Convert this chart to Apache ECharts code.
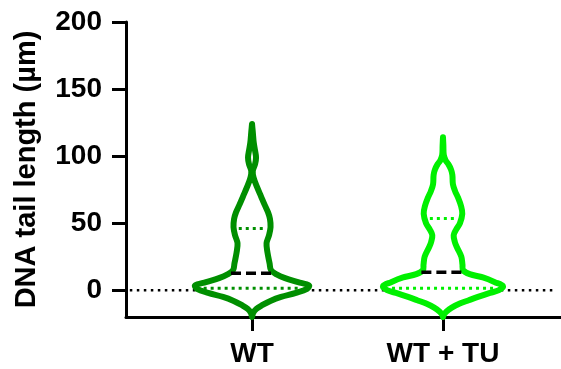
<!DOCTYPE html>
<html>
<head>
<meta charset="utf-8">
<script src="https://cdn.jsdelivr.net/npm/echarts@6/dist/echarts.min.js"></script>
<style>
  html, body { margin: 0; padding: 0; background: #fff; }
  #chart { width: 561px; height: 369px; }
</style>
</head>
<body>
<div id="chart"></div>
<script>
// Groups on the x axis
const categories = ['WT', 'WT + TU'];
const groupColors = ['#008f00', '#00f000'];

// Violin outlines: tail length (µm) and half-width of the density at that length
const wtLengths = [124, 118, 110, 104, 99, 94, 89, 84, 77, 70, 64, 58, 53, 47, 41, 35, 28, 20, 15, 12, 9, 6, 3.5, 1, -2, -5, -8, -11, -14, -17, -20];
const wtHalfWidths = [0, 0.004, 0.009, 0.016, 0.021, 0.016, 0.004, 0.008, 0.026, 0.047, 0.065, 0.084, 0.094, 0.097, 0.089, 0.076, 0.081, 0.092, 0.099, 0.126, 0.173, 0.241, 0.298, 0.288, 0.230, 0.152, 0.096, 0.055, 0.022, 0.006, 0];

const tuLengths = [114, 108, 101, 97, 94, 90, 86, 79, 74, 69, 63, 57, 50, 45, 41, 36, 32, 25, 19, 15, 12, 9.5, 6, 3, 0, -2, -5, -7.5, -10, -13, -16, -18, -20];
const tuHalfWidths = [0, 0.002, 0.004, 0.013, 0.028, 0.042, 0.049, 0.052, 0.063, 0.079, 0.094, 0.101, 0.089, 0.068, 0.056, 0.062, 0.073, 0.096, 0.102, 0.105, 0.140, 0.209, 0.272, 0.314, 0.293, 0.246, 0.183, 0.135, 0.088, 0.046, 0.017, 0.006, 0];

// Summary lines per group
const medians = [12.6, 13.4];
const upperQuartiles = [46, 53.5];
const lowerQuartiles = [1.5, 1.5];

// Axis ticks
const yTicks = [0, 50, 100, 150, 200];
const xTicks = [1, 2];

const profiles = [
  { lengths: wtLengths, half: wtHalfWidths },
  { lengths: tuLengths, half: tuHalfWidths }
];

const FONT = '"Liberation Sans", Arial, Helvetica, sans-serif';

// Linear lookup of the half-width at a given length
function halfWidthAt(p, v) {
  const L = p.lengths, H = p.half;
  for (let i = 0; i < L.length - 1; i++) {
    const a = L[i], b = L[i + 1];
    if ((v <= a && v >= b) || (v >= a && v <= b)) {
      const t = (v - a) / (b - a);
      return H[i] + t * (H[i + 1] - H[i]);
    }
  }
  return 0;
}

function renderViolin(params, api) {
  const idx = api.value(0);
  const center = xTicks[idx];
  const p = profiles[idx];
  const color = groupColors[idx];
  const pts = [];
  for (let i = p.lengths.length - 1; i >= 0; i--) {
    pts.push(api.coord([center + p.half[i], p.lengths[i]]));
  }
  for (let i = 0; i < p.lengths.length; i++) {
    pts.push(api.coord([center - p.half[i], p.lengths[i]]));
  }
  const children = [{
    type: 'polygon',
    shape: { points: pts, smooth: 0.35 },
    style: { fill: '#fff', stroke: color, lineWidth: 6, lineJoin: 'round' },
    z2: 1
  }];
  const unit = api.size([1, 0])[0];
  function hline(v, inset, style) {
    const hw = halfWidthAt(p, v) * unit - inset;
    const c = api.coord([center, v]);
    return {
      type: 'line',
      shape: { x1: c[0] - hw, y1: c[1], x2: c[0] + hw, y2: c[1] },
      style: style,
      z2: 2
    };
  }
  const dotted = { stroke: color, lineWidth: 3, lineDash: [3, 4] };
  children.push(hline(upperQuartiles[idx], 5, dotted));
  children.push(hline(lowerQuartiles[idx], 7, dotted));
  children.push(hline(medians[idx], 2, { stroke: '#000', lineWidth: 3.5, lineDash: [10, 5] }));
  return { type: 'group', children: children };
}

const chart = echarts.init(document.getElementById('chart'), null, { renderer: 'canvas' });
chart.setOption({
  animation: false,
  backgroundColor: '#fff',
  grid: { left: 126, right: 0, top: 22, bottom: 52 },
  xAxis: {
    type: 'value',
    min: 0.34,
    max: 2.618,
    splitLine: { show: false },
    axisLine: { show: true, onZero: false, lineStyle: { color: '#000', width: 3 } },
    axisTick: { show: true, customValues: xTicks, length: 14, lineStyle: { color: '#000', width: 3 } },
    axisLabel: {
      customValues: xTicks,
      formatter: v => categories[Math.round(v) - 1] || '',
      margin: 23,
      color: '#000',
      fontFamily: FONT,
      fontWeight: 'bold',
      fontSize: 28
    }
  },
  yAxis: {
    type: 'value',
    min: -20,
    max: 200,
    splitLine: { show: false },
    axisLine: { show: true, onZero: false, lineStyle: { color: '#000', width: 3 } },
    axisTick: { show: true, customValues: yTicks, length: 14, lineStyle: { color: '#000', width: 3 } },
    axisLabel: {
      customValues: yTicks,
      margin: 24,
      color: '#000',
      fontFamily: FONT,
      fontWeight: 'bold',
      fontSize: 28
    },
    name: 'DNA tail length (µm)',
    nameLocation: 'middle',
    nameRotate: 90,
    nameGap: 85,
    nameTextStyle: { color: '#000', fontFamily: FONT, fontWeight: 'bold', fontSize: 29 }
  },
  series: [
    {
      type: 'line',
      data: [[0.36, 0], [2.575, 0]],
      symbol: 'none',
      silent: true,
      z: 1,
      lineStyle: { color: '#000', width: 2.5, type: [2.5, 4.5] }
    },
    {
      type: 'custom',
      renderItem: renderViolin,
      data: [[0], [1]],
      encode: { x: -1, y: -1 },
      clip: false,
      z: 3
    }
  ]
});
</script>
</body>
</html>
